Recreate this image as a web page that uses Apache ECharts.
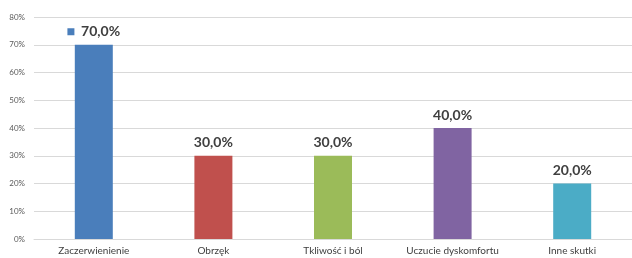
<!DOCTYPE html>
<html>
<head>
<meta charset="utf-8">
<script src="https://cdn.jsdelivr.net/npm/echarts@6/dist/echarts.min.js"></script>
<style>
html, body { margin: 0; padding: 0; background: #fff; }
#chart { width: 632px; height: 258px; }
</style>
</head>
<body>
<div id="chart"></div>
<script>
const categories = ['Zaczerwienienie', 'Obrzęk', 'Tkliwość i ból', 'Uczucie dyskomfortu', 'Inne skutki'];
const values = [70, 30, 30, 40, 20];
const colors = ['#4a7ebb', '#c0504d', '#9bbb59', '#8064a2', '#4bacc6'];
const yTicks = [0, 10, 20, 30, 40, 50, 60, 70, 80];

const chart = echarts.init(document.getElementById('chart'));

chart.setOption({
    animation: false,
    grid: {
        left: 34,
        top: 17,
        right: -5,
        bottom: 19,
    },
    xAxis: {
        type: 'category',
        data: categories,
        axisLine: {
            lineStyle: { color: '#d9d9d9' },
        },
        axisTick: { show: false },
        axisLabel: {
            interval: 0,
            color: '#404040',
            fontFamily: 'Lato',
            fontSize: 10,
            margin: 7,
        },
    },
    yAxis: {
        type: 'value',
        min: yTicks[0],
        max: yTicks[yTicks.length - 1],
        interval: 10,
        axisLine: { show: false },
        axisTick: { show: false },
        splitLine: {
            lineStyle: { color: '#d9d9d9' },
        },
        axisLabel: {
            color: '#595959',
            fontFamily: 'Lato',
            fontSize: 8,
            margin: 9,
            formatter: v => v + '%',
        },
    },
    series: [{
        type: 'bar',
        barWidth: 38,
        data: values.map((v, i) => ({
            value: v,
            itemStyle: { color: colors[i] },
        })),
        label: {
            show: true,
            position: 'top',
            distance: 6,
            formatter: p => (p.dataIndex === 0 ? '{sq|}  ' : '') + '{v|' + p.value.toFixed(1).replace('.', ',') + '%}',
            rich: {
                v: {
                    fontFamily: 'Lato',
                    fontWeight: 'bold',
                    fontSize: 14,
                    color: '#404040',
                },
                sq: {
                    width: 7,
                    height: 7,
                    backgroundColor: colors[0],
                },
            },
        },
    }],
});
</script>
</body>
</html>
